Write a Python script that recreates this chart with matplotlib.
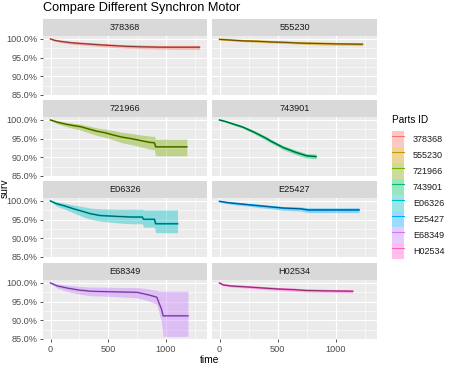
import matplotlib
matplotlib.use("Agg")
import matplotlib.pyplot as plt
from matplotlib.patches import Patch
from matplotlib.lines import Line2D
from matplotlib.colors import to_rgb

plt.rcParams['font.family'] = ['Liberation Sans', 'DejaVu Sans']

# Datos (tiempo, supervivencia %, banda inferior, banda superior)
parts = ["378368", "555230", "721966", "743901", "E06326", "E25427", "E68349", "H02534"]
colors = ["#F8766D", "#CD9600", "#7CAE00", "#00BE67", "#00BFC4", "#00A9FF", "#C77CFF", "#FF61CC"]

t_378368 = [0, 40, 100, 180, 260, 350, 450, 560, 680, 800, 950, 1100, 1290]
s_378368 = [100, 99.6, 99.3, 99.0, 98.8, 98.6, 98.4, 98.2, 98.0, 97.9, 97.8, 97.8, 97.8]
lo_378368 = [100, 99.4, 99.0, 98.6, 98.4, 98.2, 97.9, 97.7, 97.5, 97.4, 97.3, 97.2, 97.2]
hi_378368 = [100, 99.8, 99.6, 99.3, 99.2, 99.0, 98.8, 98.6, 98.5, 98.4, 98.3, 98.3, 98.3]

t_555230 = [0, 100, 200, 320, 450, 560, 700, 850, 1000, 1230]
s_555230 = [99.9, 99.7, 99.5, 99.4, 99.2, 99.1, 98.9, 98.8, 98.7, 98.6]
lo_555230 = [99.8, 99.5, 99.3, 99.1, 98.9, 98.8, 98.6, 98.4, 98.3, 98.2]
hi_555230 = [100, 99.9, 99.7, 99.6, 99.5, 99.4, 99.2, 99.1, 99.0, 99.0]

t_721966 = [0, 60, 130, 200, 260, 330, 400, 470, 540, 620, 700, 780, 860, 900, 910, 1180]
s_721966 = [100, 99.4, 98.9, 98.5, 98.2, 97.6, 97.0, 96.6, 96.0, 95.4, 95.0, 94.5, 94.0, 93.9, 92.8, 92.8]
lo_721966 = [100, 99.0, 98.3, 97.7, 97.3, 96.6, 95.9, 95.4, 94.7, 93.9, 93.4, 92.8, 92.2, 92.0, 90.4, 90.4]
hi_721966 = [100, 99.8, 99.4, 99.1, 98.9, 98.4, 97.9, 97.6, 97.2, 96.7, 96.4, 96.0, 95.7, 95.6, 94.9, 94.9]

t_743901 = [0, 50, 100, 150, 200, 250, 300, 350, 400, 450, 500, 550, 600, 650, 700, 750, 830]
s_743901 = [100, 99.6, 99.1, 98.6, 98.1, 97.4, 96.7, 95.9, 95.1, 94.2, 93.4, 92.6, 92.0, 91.4, 90.9, 90.4, 90.2]
lo_743901 = [100, 99.5, 98.9, 98.3, 97.8, 97.0, 96.3, 95.4, 94.6, 93.7, 92.9, 92.0, 91.4, 90.8, 90.3, 89.8, 89.6]
hi_743901 = [100, 99.8, 99.3, 98.9, 98.4, 97.8, 97.1, 96.4, 95.6, 94.7, 93.9, 93.1, 92.6, 92.0, 91.5, 91.0, 90.9]

t_E06326 = [0, 50, 120, 200, 280, 345, 430, 560, 700, 795, 805, 900, 910, 1100]
s_E06326 = [100, 99.3, 98.7, 97.9, 97.2, 96.6, 96.1, 95.9, 95.7, 95.7, 95.1, 95.1, 93.9, 93.9]
lo_E06326 = [100, 98.7, 97.8, 96.8, 95.8, 95.1, 94.6, 94.2, 93.9, 93.9, 93.0, 93.0, 91.5, 91.5]
hi_E06326 = [100, 99.8, 99.4, 98.9, 98.5, 98.1, 97.9, 97.8, 97.8, 97.8, 97.6, 97.6, 97.6, 97.6]

t_E25427 = [0, 60, 150, 250, 350, 450, 550, 700, 760, 1200]
s_E25427 = [99.9, 99.6, 99.3, 99.0, 98.7, 98.4, 98.1, 97.9, 97.6, 97.6]
lo_E25427 = [99.7, 99.3, 98.9, 98.6, 98.2, 97.9, 97.5, 97.3, 96.9, 96.9]
hi_E25427 = [100, 99.8, 99.6, 99.3, 99.1, 98.8, 98.5, 98.4, 98.2, 98.2]

t_E68349 = [0, 60, 150, 250, 345, 450, 600, 750, 850, 920, 940, 960, 975, 1190]
s_E68349 = [100, 99.2, 98.6, 98.1, 97.8, 97.7, 97.6, 97.5, 96.8, 96.2, 94.6, 93.1, 91.2, 91.2]
lo_E68349 = [100, 98.6, 97.7, 97.0, 96.6, 96.5, 96.3, 96.0, 95.2, 94.3, 91.9, 89.6, 85.7, 85.7]
hi_E68349 = [100, 99.7, 99.4, 99.1, 98.9, 98.9, 98.8, 98.8, 98.4, 98.0, 97.8, 97.8, 97.8, 97.8]

t_H02534 = [0, 30, 100, 260, 400, 500, 650, 745, 900, 1145]
s_H02534 = [100, 99.5, 99.2, 98.9, 98.6, 98.4, 98.2, 98.0, 97.9, 97.8]
lo_H02534 = [100, 99.3, 98.9, 98.6, 98.2, 98.0, 97.8, 97.6, 97.5, 97.4]
hi_H02534 = [100, 99.8, 99.5, 99.2, 99.0, 98.8, 98.6, 98.4, 98.3, 98.2]

series = {
    "378368": (t_378368, s_378368, lo_378368, hi_378368),
    "555230": (t_555230, s_555230, lo_555230, hi_555230),
    "721966": (t_721966, s_721966, lo_721966, hi_721966),
    "743901": (t_743901, s_743901, lo_743901, hi_743901),
    "E06326": (t_E06326, s_E06326, lo_E06326, hi_E06326),
    "E25427": (t_E25427, s_E25427, lo_E25427, hi_E25427),
    "E68349": (t_E68349, s_E68349, lo_E68349, hi_E68349),
    "H02534": (t_H02534, s_H02534, lo_H02534, hi_H02534),
}

y_ticks = [85, 90, 95, 100]
x_ticks = [0, 500, 1000]

W, H = 452, 368
fig = plt.figure(figsize=(W / 100, H / 100), dpi=100)

def px_axes(x0, y0, x1, y1):
    # coordenadas en pixeles desde arriba a la izquierda
    return fig.add_axes([x0 / W, 1 - y1 / H, (x1 - x0) / W, (y1 - y0) / H])

cols = [(43, 207), (212, 377)]
rows = [(36, 95), (117, 176), (198, 257), (280, 339)]
strip_h = 17

def darken(c, f=0.4):
    r, g, b = to_rgb(c)
    return (r * f, g * f, b * f)

for i, pid in enumerate(parts):
    r, c = divmod(i, 2)
    x0, x1 = cols[c]
    y0, y1 = rows[r]
    ax = px_axes(x0, y0, x1, y1)
    st = px_axes(x0, y0 - strip_h, x1, y0)

    t, s, lo, hi = series[pid]
    col = colors[i]
    ax.fill_between(t, lo, hi, color=col, alpha=0.4, linewidth=0)
    ax.plot(t, s, color=col, lw=1.3)
    ax.plot(t, s, color=darken(col), lw=0.7, alpha=0.85)

    ax.set_facecolor("#EBEBEB")
    ax.set_xlim(-65, 1355)
    ax.set_ylim(85.1, 100.8)
    ax.set_xticks(x_ticks)
    ax.set_xticks([250, 750, 1250], minor=True)
    ax.set_yticks(y_ticks)
    ax.set_yticks([87.5, 92.5, 97.5], minor=True)
    ax.grid(which="major", color="white", lw=0.8)
    ax.grid(which="minor", color="white", lw=0.4)
    ax.set_axisbelow(True)
    for sp in ax.spines.values():
        sp.set_visible(False)
    ax.tick_params(which="major", length=2.5, width=0.6, color="#333333",
                   labelsize=6.6, labelcolor="#4D4D4D", pad=1.5)
    ax.tick_params(which="minor", length=0)
    if c == 0:
        ax.set_yticklabels([f"{v:.1f}%" for v in y_ticks])
    else:
        ax.tick_params(axis="y", which="major", length=0, labelleft=False)
    if r == 3:
        ax.set_xticklabels([str(v) for v in x_ticks])
    else:
        ax.tick_params(axis="x", which="major", length=0, labelbottom=False)

    st.set_facecolor("#D9D9D9")
    st.set_xticks([])
    st.set_yticks([])
    for sp in st.spines.values():
        sp.set_visible(False)
    st.text(0.5, 0.5, pid, ha="center", va="center", fontsize=6.6, color="#1A1A1A",
            transform=st.transAxes)

fig.text(43 / W, 1 - 8 / H, "Compare Different Synchron Motor", fontsize=9.2,
         ha="left", va="center", color="black")
fig.text(210 / W, 1 - 360 / H, "time", fontsize=7.4, ha="center", va="center")
fig.text(5 / W, 1 - 188 / H, "surv", fontsize=7.4, ha="center", va="center", rotation=90)

# leyenda
fig.text(392 / W, 1 - 120 / H, "Parts ID", fontsize=7.2, ha="left", va="center", color="black")
handles = [(Patch(facecolor=col, alpha=0.4, linewidth=0), Line2D([], [], color=col, lw=0.8))
           for col in colors]
leg = fig.legend(handles, parts, loc="upper left",
                 bbox_to_anchor=(392 / W, 1 - 131 / H), frameon=False,
                 fontsize=6.5, handlelength=1.3, handleheight=2.35,
                 labelspacing=0.0, handletextpad=1.0, borderaxespad=0, borderpad=0)
for txt in leg.get_texts():
    txt.set_color("#1A1A1A")

fig.savefig("out.png", dpi=100)
